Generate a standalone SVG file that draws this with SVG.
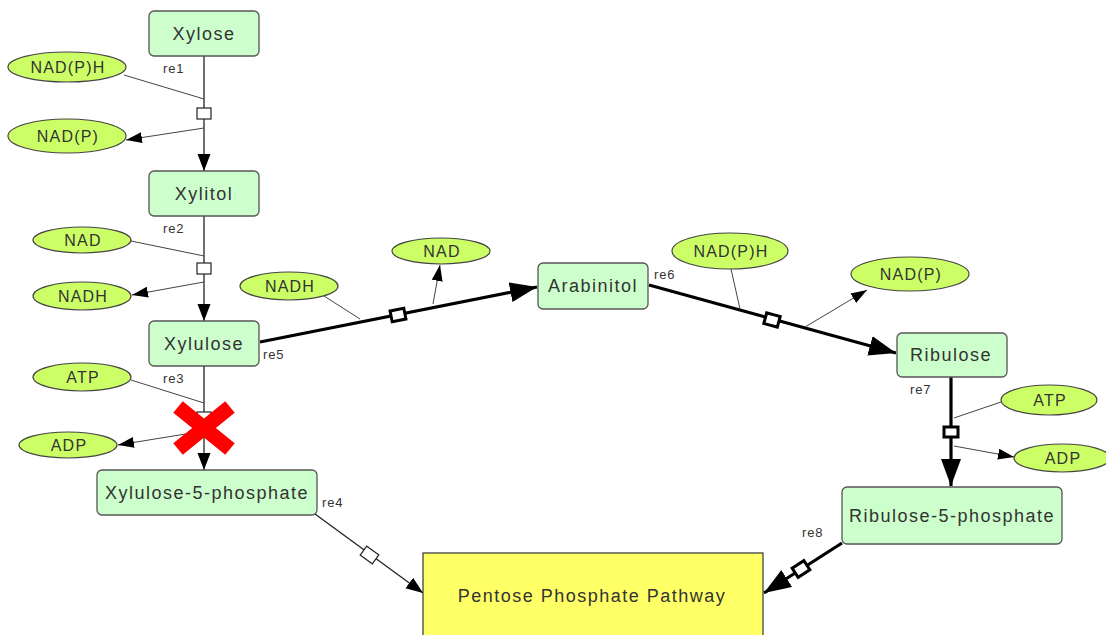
<svg xmlns="http://www.w3.org/2000/svg" width="1106" height="635" viewBox="0 0 1106 635">
<style>
.sp{fill:#ccffcc;stroke:#555;stroke-width:1.3}
.el{fill:#ccff66;stroke:#444;stroke-width:1.2}
.ph{fill:#ffff66;stroke:#444;stroke-width:1.3}
.t{font-family:"Liberation Sans",Arial,sans-serif;font-size:18px;letter-spacing:1.5px;fill:#333;text-anchor:middle}
.te{font-family:"Liberation Sans",Arial,sans-serif;font-size:16px;letter-spacing:1.2px;fill:#333;text-anchor:middle}
.lb{font-family:"Liberation Sans",Arial,sans-serif;font-size:13px;letter-spacing:0.8px;fill:#333}
.ln{fill:none;stroke:#222;stroke-width:1.3}
.ls{fill:none;stroke:#444;stroke-width:1}
.lk{fill:none;stroke:#000;stroke-width:3.2}
.sq{fill:#fff;stroke:#222;stroke-width:1.2}
.sqk{fill:#fff;stroke:#000;stroke-width:3}
.x{stroke:#ff0000;stroke-width:15;fill:none}
</style>
<defs>
<marker id="a" markerUnits="userSpaceOnUse" markerWidth="18" markerHeight="14" refX="17" refY="6.5" orient="auto"><path d="M0,0 L17,6.5 L0,13 z" fill="#000"/></marker>
<marker id="as" markerUnits="userSpaceOnUse" markerWidth="17" markerHeight="12" refX="16" refY="5.5" orient="auto"><path d="M0,0 L16,5.5 L0,11 z" fill="#000"/></marker>
<marker id="ak" markerUnits="userSpaceOnUse" markerWidth="28" markerHeight="22" refX="27" refY="10" orient="auto"><path d="M0,0 L27,10 L0,20 z" fill="#000"/></marker>
</defs>

<g id="connectors">
<!-- re1 -->
<path class="ln" d="M204,56 V108"/>
<path class="ln" d="M204,119 V171" marker-end="url(#a)"/>
<path class="ls" d="M124,75 L204,99"/>
<path class="ls" d="M204,128 L126,140" marker-end="url(#as)"/>
<rect class="sq" x="197" y="108" width="14" height="11"/>
<!-- re2 -->
<path class="ln" d="M204,216 V263"/>
<path class="ln" d="M204,274 V321" marker-end="url(#a)"/>
<path class="ls" d="M131,241 L204,256"/>
<path class="ls" d="M204,282 L132,295" marker-end="url(#as)"/>
<rect class="sq" x="197" y="263" width="14" height="11"/>
<!-- re3 -->
<path class="ln" d="M204,366 V412"/>
<path class="ln" d="M204,423 V470" marker-end="url(#a)"/>
<path class="ls" d="M131,380 L204,403"/>
<path class="ls" d="M204,431 L118,445" marker-end="url(#as)"/>
<rect class="sq" x="197" y="412" width="14" height="11"/>
<path class="x" d="M178,407 L230,449 M230,407 L178,449"/>
<!-- re4 -->
<path class="ln" d="M315,514 L423,593" marker-end="url(#a)"/>
<rect class="sq" x="-7.5" y="-5.5" width="15" height="11" transform="translate(369.5,555) rotate(36)"/>
<!-- re5 -->
<path class="lk" d="M260,342 L537,287" marker-end="url(#ak)"/>
<path class="ls" d="M324,296 L360,319"/>
<path class="ls" d="M433,304 L440,265" marker-end="url(#as)"/>
<rect class="sqk" x="-7" y="-5.5" width="14" height="11" transform="translate(398,315) rotate(-11.3)"/>
<!-- re6 -->
<path class="lk" d="M649,285 L896,353" marker-end="url(#ak)"/>
<path class="ls" d="M731,269 L740,309"/>
<path class="ls" d="M805,327 L867,290" marker-end="url(#as)"/>
<rect class="sqk" x="-7" y="-5.5" width="14" height="11" transform="translate(772,320) rotate(15.3)"/>
<!-- re7 -->
<path class="lk" d="M951,377 V486" marker-end="url(#ak)"/>
<path class="ls" d="M954,418 L1001,402"/>
<path class="ls" d="M954,446 L1014,457" marker-end="url(#as)"/>
<rect class="sqk" x="944" y="427" width="14" height="10"/>
<!-- re8 -->
<path class="lk" d="M842,543 L764,593" marker-end="url(#ak)"/>
<rect class="sqk" x="-7" y="-5.5" width="14" height="11" transform="translate(801,569) rotate(147)"/>
</g>

<g id="labels">
<text class="lb" x="163" y="73">re1</text>
<text class="lb" x="163" y="233">re2</text>
<text class="lb" x="163" y="383">re3</text>
<text class="lb" x="322" y="507">re4</text>
<text class="lb" x="263" y="359">re5</text>
<text class="lb" x="654" y="279">re6</text>
<text class="lb" x="910" y="394">re7</text>
<text class="lb" x="802" y="537">re8</text>
</g>

<g id="xylose"><rect class="sp" x="149" y="11" width="110" height="45" rx="5"/><text class="t" x="204" y="40">Xylose</text></g>
<g id="xylitol"><rect class="sp" x="149" y="171" width="110" height="45" rx="5"/><text class="t" x="204" y="200">Xylitol</text></g>
<g id="xylulose"><rect class="sp" x="149" y="321" width="110" height="45" rx="5"/><text class="t" x="204" y="350">Xylulose</text></g>
<g id="xylulose5p"><rect class="sp" x="97" y="470" width="220" height="45" rx="5"/><text class="t" x="207" y="499">Xylulose-5-phosphate</text></g>
<g id="arabinitol"><rect class="sp" x="538" y="263" width="110" height="46" rx="5"/><text class="t" x="593" y="292">Arabinitol</text></g>
<g id="ribulose"><rect class="sp" x="897" y="333" width="110" height="44" rx="5"/><text class="t" x="951" y="361">Ribulose</text></g>
<g id="ribulose5p"><rect class="sp" x="842" y="487" width="220" height="57" rx="5"/><text class="t" x="952" y="522">Ribulose-5-phosphate</text></g>
<g id="ppp"><rect class="ph" x="423" y="553" width="340" height="90"/><text class="t" x="592" y="602">Pentose Phosphate Pathway</text></g>

<g id="nadph1"><ellipse class="el" cx="67" cy="67" rx="59" ry="15"/><text class="te" x="68" y="73">NAD(P)H</text></g>
<g id="nadp1"><ellipse class="el" cx="67" cy="136" rx="59" ry="17"/><text class="te" x="68" y="142">NAD(P)</text></g>
<g id="nad1"><ellipse class="el" cx="82" cy="240" rx="49" ry="13"/><text class="te" x="83" y="246">NAD</text></g>
<g id="nadh1"><ellipse class="el" cx="82" cy="296" rx="49" ry="14"/><text class="te" x="83" y="302">NADH</text></g>
<g id="atp1"><ellipse class="el" cx="82" cy="377" rx="49" ry="14"/><text class="te" x="83" y="383">ATP</text></g>
<g id="adp1"><ellipse class="el" cx="68" cy="445" rx="49" ry="13"/><text class="te" x="69" y="451">ADP</text></g>
<g id="nadh2"><ellipse class="el" cx="289" cy="286" rx="49" ry="14"/><text class="te" x="290" y="292">NADH</text></g>
<g id="nad2"><ellipse class="el" cx="441" cy="251" rx="49" ry="13"/><text class="te" x="442" y="257">NAD</text></g>
<g id="nadph2"><ellipse class="el" cx="730" cy="251" rx="58" ry="18"/><text class="te" x="731" y="257">NAD(P)H</text></g>
<g id="nadp2"><ellipse class="el" cx="910" cy="274" rx="59" ry="17"/><text class="te" x="911" y="280">NAD(P)</text></g>
<g id="atp2"><ellipse class="el" cx="1049" cy="400" rx="48" ry="15"/><text class="te" x="1050" y="406">ATP</text></g>
<g id="adp2"><ellipse class="el" cx="1062" cy="458" rx="48" ry="14"/><text class="te" x="1063" y="464">ADP</text></g>
</svg>
